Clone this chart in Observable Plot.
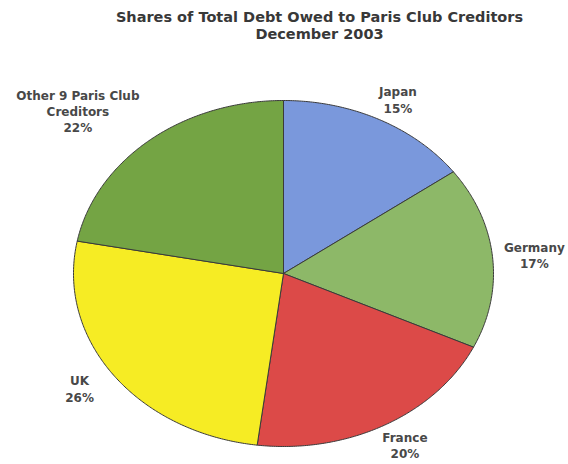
<!DOCTYPE html>
<html>
<head>
<meta charset="utf-8">
<script src="https://cdn.jsdelivr.net/npm/d3@7"></script>
<script src="https://cdn.jsdelivr.net/npm/@observablehq/plot@0.6"></script>
<style>
  html, body { margin: 0; padding: 0; background: #fff; }
</style>
</head>
<body>
<div id="chart"></div>
<script>
// ---- data ----
const categories = ["Japan", "Germany", "France", "UK", "Other 9 Paris Club Creditors"];
const labelNames = ["Japan", "Germany", "France", "UK", "Other 9 Paris Club\nCreditors"];
const shares = [15, 17, 20, 26, 22];
const colors = ["#7a98dc", "#8db868", "#dc4a48", "#f6ec24", "#74a444"];
const titleLines = ["Shares of Total Debt Owed to Paris Club Creditors", "December 2003"];

// ---- derived geometry (unit ellipse, scaled by Plot's x/y scales) ----
const pie = d3.pie().sort(null).value(d => d.share).startAngle(0).endAngle(2 * Math.PI);
const table = categories.map((c, i) => ({name: c, label: `${labelNames[i]}\n${shares[i]}%`, share: shares[i]}));
const arcs = pie(table);

const slicePts = [];
for (const a of arcs) {
  const n = Math.max(2, Math.ceil((a.endAngle - a.startAngle) / (Math.PI / 360)));
  slicePts.push({name: a.data.name, x: 0, y: 0});
  for (let k = 0; k <= n; k++) {
    const t = a.startAngle + (a.endAngle - a.startAngle) * k / n;
    slicePts.push({name: a.data.name, x: Math.sin(t), y: Math.cos(t)});
  }
  slicePts.push({name: a.data.name, x: 0, y: 0});
}

const labelRx = 1.2, labelRy = 1.13;
const labelPts = arcs.map(a => {
  const m = (a.startAngle + a.endAngle) / 2;
  return {name: a.data.name, label: a.data.label, x: labelRx * Math.sin(m), y: labelRy * Math.cos(m)};
});

const textStyle = {
  fontFamily: "DejaVu Sans, sans-serif",
  fontWeight: "bold",
  fontSize: 12,
  fill: "#484848",
  lineHeight: 1.35
};

const chart = Plot.plot({
  width: 568,
  height: 464,
  margin: 0,
  x: {domain: [-1, 1], range: [73, 493], axis: null},
  y: {domain: [-1, 1], range: [446, 100], axis: null},
  color: {domain: categories, range: colors},
  style: {background: "#fff"},
  marks: [
    Plot.line(slicePts, {x: "x", y: "y", z: "name", fill: "name", stroke: "#3a3a3a", strokeWidth: 1, strokeLinejoin: "round"}),
    Plot.text(labelPts.filter(d => !d.name.startsWith("Other")), {x: "x", y: "y", text: "label", ...textStyle}),
    Plot.text(labelPts.filter(d => d.name.startsWith("Other")), {x: "x", y: "y", text: "label", dx: -45, dy: -12, ...textStyle}),
    Plot.text([titleLines.join("\n")], {frameAnchor: "top", text: d => d, dx: 35, dy: 10, fontFamily: "DejaVu Sans, sans-serif", fontWeight: "bold", fontSize: 14.5, fill: "#383838", lineHeight: 1.15})
  ]
});
document.getElementById("chart").append(chart);
</script>
</body>
</html>
